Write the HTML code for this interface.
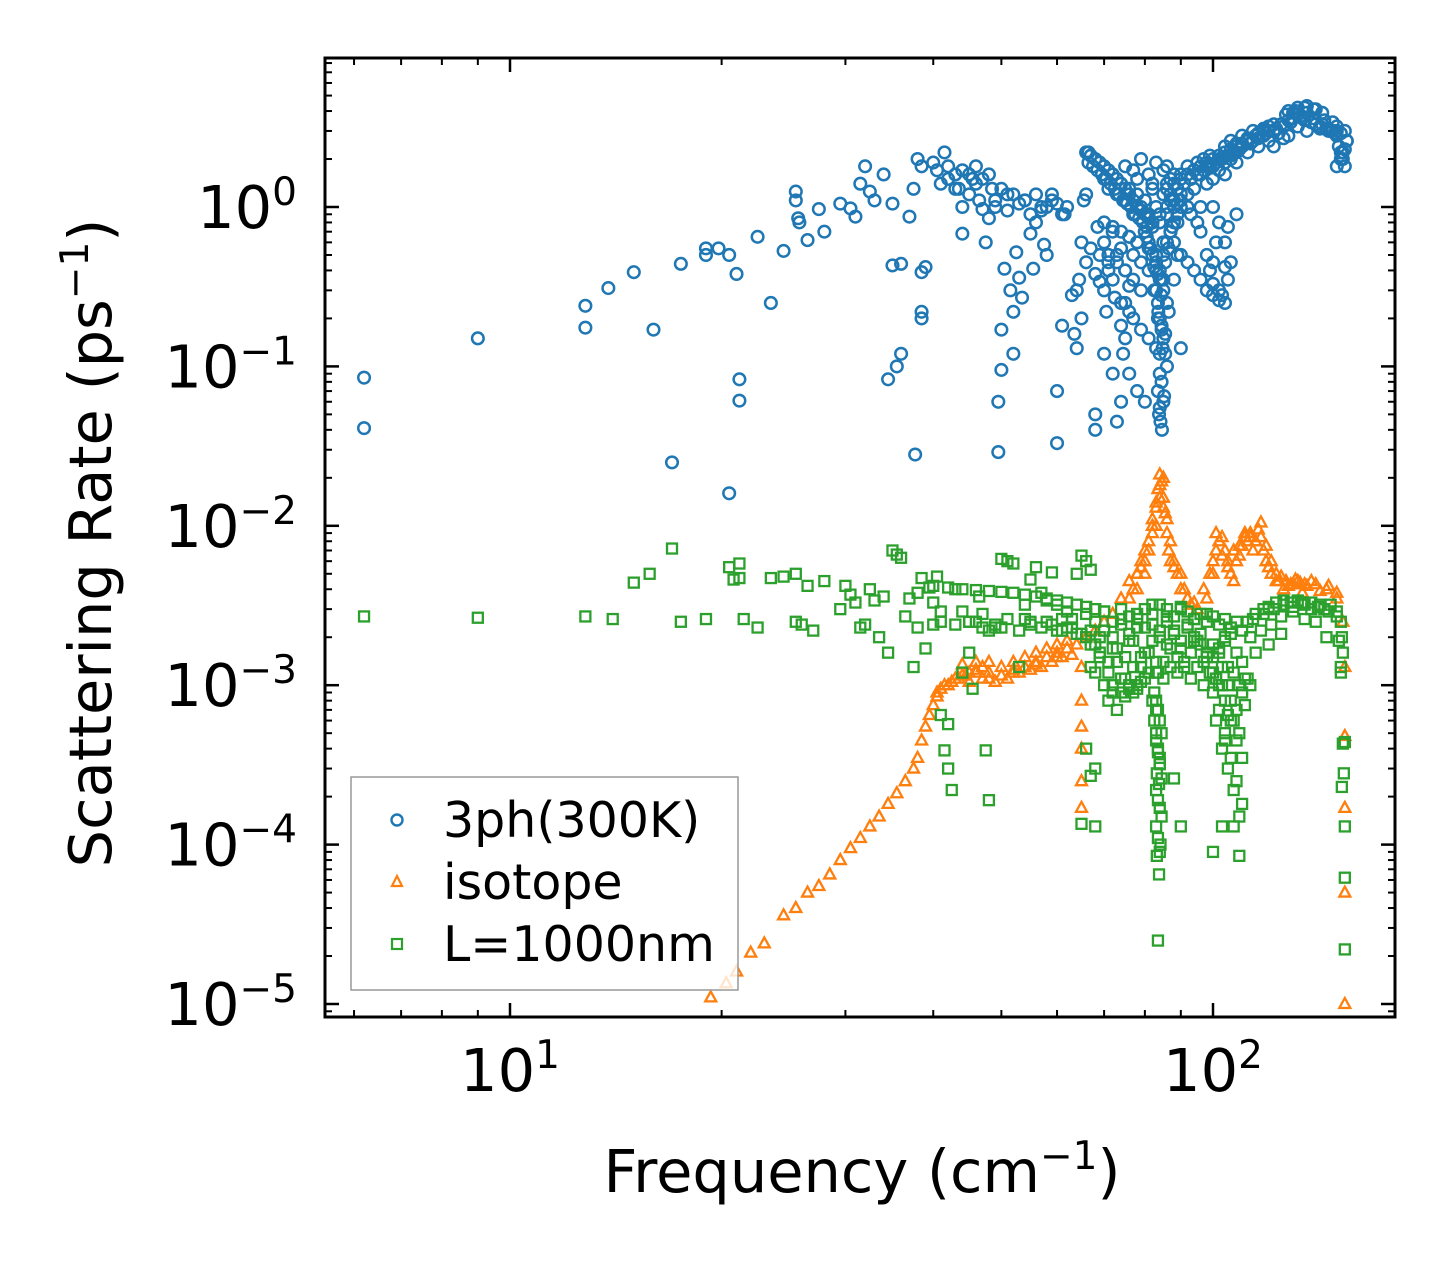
<!DOCTYPE html>
<html><head><meta charset="utf-8">
<style>
html,body{margin:0;padding:0;background:#fff;}
svg{display:block;font-family:"DejaVu Sans","Liberation Sans",sans-serif;}
</style></head>
<body>
<svg id="chart" width="1455" height="1265" viewBox="0 0 1455 1265" xmlns="http://www.w3.org/2000/svg">
<rect width="1455" height="1265" fill="#fff"/>
<g id="marks"></g>
<g id="axes"></g>
<g id="legend">
 <rect x="351" y="777" width="387" height="213" fill="#fff" fill-opacity="0.8" stroke="#999" stroke-width="1.5"/>
 <circle cx="397" cy="820" r="5.5" fill="none" stroke="#1f77b4" stroke-width="2.4"/>
 <text x="443" y="837" font-size="49">3ph(300K)</text>
 <polygon points="397,876 402,886 392,886" fill="none" stroke="#ff7f0e" stroke-width="2.2"/>
 <text x="443" y="899" font-size="49">isotope</text>
 <rect x="392" y="939" width="10" height="10" fill="none" stroke="#2ca02c" stroke-width="2.2"/>
 <text x="443" y="961" font-size="49">L=1000nm</text>
</g>
<text x="862" y="1192" font-size="59" text-anchor="middle">Frequency (cm<tspan dy="-23" font-size="39">−1</tspan><tspan dy="23">)</tspan></text>
<text transform="translate(111,543) rotate(-90)" font-size="59" text-anchor="middle">Scattering Rate (ps<tspan dy="-23" font-size="39">−1</tspan><tspan dy="23">)</tspan></text>
</svg>
<script>
const xTicks=[10,100];
const xTickLabels=["1","2"];
const yTicks=[1,0.1,0.01,0.001,0.0001,0.00001];
const yTickLabels=["0","−1","−2","−3","−4","−5"];

const blueFreq=[6.2,6.2,9.0,12.8,12.8,13.8,15.0,16.0,17.0,17.5,19.0,19.0,19.8,20.5,20.5,21.0,21.2,21.2,22.5,23.5,24.5,25.5,25.5,25.7,25.8,26.5,27.5,28,29.5,30.5,31,31.5,32,32.5,33,34,35,35,35.5,36,36,34.5,37,37.5,38,38.5,37.7,38.5,38.5,38.5,39,40,40.5,41,41.5,42,43,43.5,44,44,45,45.5,46,46.5,47,47.5,48,48.5,49,49.5,49.5,50,50,50.5,51,51.5,52,52,52.5,53,53.5,54,55,55.5,56,57,57.5,58,59,60,60,61,61.5,62,63,63.5,64,64.5,65,65.5,66,66.5,67,68,68,68.5,69,70,70.5,71,72,72.5,73,74,74.5,75,76,
66,67,68,69,70,71,72,73,74,75,76,77,78,79,80,81,82,66.5,67.5,68.5,69.5,70.5,71.5,72.5,73.5,74.5,75.5,76.5,77.5,78.5,79.5,80.5,
80,81,82,83,84,85,86,87,88,89,90,80.5,81.5,82.5,83.5,84.5,85.5,86.5,87.5,
83,83.5,84,84.5,85,85.5,86,84,84.5,83.5,85,84,83.8,84.2,84.6,85.2,84.8,83.6,84.4,85,
70,72,74,76,78,80,82,84,86,88,90,71,73,75,77,79,81,83,85,87,89,
76,78,80,82,75,77,79,81,83,74,76,78,80,
86,88,90,92,94,96,98,100,102,104,106,108,110,87,89,91,93,95,97,99,101,103,105,107,109,
88,90,92,94,96,98,100,102,104,
112,115,118,120,122,125,128,130,132,135,138,140,142,145,148,150,113,116,119,123,126,129,133,136,139,143,146,149,
128,132,136,140,127,131,135,139,143,150,151,152,153,154,155,150,152,154,
92,95,98,100,102,105,93,96,99,101,104,100,102,104,106,100,103,90,88,108,105,
70,71,72,73,74,75,76,77,78,79,
80,81,82,83,84,85,86,87,88,89,
70,72,74,76,78,80,82,84,86,88,
71,73,75,77,79,81,83,85,87,89,
90,91,92,93,94,95,96,97,98,99,
90,92,94,96,98,100,102,104,106,108,
100,102,104,106,108,110,112,114,116,118,
104,106,108,110,112,114,116,118,120,122,
120,124,128,132,136,140,144,148,122,126,
130,134,138,142,146,150,152,154,155,153,
83,84,85,86,83.5,84.5,85.5,82.5,86.5,84,
64,66,68,70,72,74,76,65,67,69,
75,77,79,81,83,85,87,78,82,86,
42,44,46,48,50,52,54,56,58,60,
43,45,47,49,51,53,55,57,59,61];
const blueRate=[0.085,0.041,0.15,0.24,0.175,0.31,0.39,0.17,0.025,0.44,0.55,0.5,0.55,0.5,0.016,0.38,0.083,0.061,0.65,0.25,0.53,1.25,1.1,0.85,0.8,0.62,0.97,0.7,1.05,0.98,0.87,1.4,1.8,1.25,1.1,1.6,1.05,0.43,0.1,0.12,0.44,0.083,0.87,1.3,2.0,1.8,0.028,0.39,0.2,0.22,0.42,1.9,1.7,1.4,2.2,1.8,1.6,1.3,1.0,0.68,1.6,1.5,1.8,1.1,0.97,0.6,0.85,1.3,1.0,0.029,0.06,0.17,0.095,0.41,1.2,0.3,0.22,0.12,0.52,0.36,0.27,1.1,0.68,0.41,0.8,1.0,0.58,0.5,1.2,0.033,0.07,0.18,0.9,1.0,0.28,0.16,0.13,0.35,0.2,1.1,1.2,2.2,2.1,0.04,0.05,0.75,0.34,0.12,0.22,0.4,0.09,0.27,0.045,0.06,0.12,0.15,0.32,
2.2,2.1,2.0,1.9,1.8,1.7,1.6,1.5,1.4,1.3,1.2,1.1,1.0,0.95,0.9,0.85,0.8,1.9,1.8,1.7,1.6,1.5,1.4,1.3,1.2,1.1,1.05,1.0,0.9,0.85,0.8,0.75,
0.7,0.6,0.5,0.45,0.4,0.5,0.6,0.7,0.8,0.9,1.0,0.65,0.55,0.42,0.38,0.35,0.45,0.55,0.75,
0.3,0.25,0.2,0.17,0.15,0.12,0.1,0.09,0.08,0.07,0.06,0.055,0.05,0.045,0.04,0.065,0.13,0.22,0.28,0.35,
0.8,0.75,0.7,0.65,0.6,0.7,0.8,0.9,1.0,1.1,1.2,0.5,0.45,0.4,0.35,0.3,0.4,0.5,0.6,0.7,0.8,
1.2,1.0,0.9,0.8,0.25,0.2,0.17,0.15,0.13,0.18,0.09,0.07,0.06,
1.3,1.4,1.5,1.6,1.7,1.8,1.9,2.0,2.1,2.2,2.3,2.4,2.5,1.2,1.3,1.4,1.5,1.6,1.7,1.8,1.9,2.0,2.1,2.2,2.3,
0.6,0.5,0.45,0.4,0.35,0.3,0.28,0.26,0.25,
2.6,2.8,3.0,3.2,3.0,3.3,3.5,3.6,3.8,3.5,3.4,3.3,3.2,3.1,3.0,3.0,2.5,2.7,2.9,3.1,3.2,3.4,3.7,3.9,3.6,3.3,3.1,2.9,
4.0,4.2,4.3,4.1,3.8,4.0,4.2,4.1,3.9,2.8,2.4,2.2,2.0,1.8,2.6,1.8,2.0,2.3,
1.0,0.8,0.5,0.45,0.3,0.35,0.9,0.7,0.4,0.6,0.42,1.0,0.8,0.6,0.45,0.33,0.28,0.13,0.35,0.9,0.75,
1.5,1.3,1.6,1.2,1.4,1.1,1.3,0.9,1.2,1.0,
1.1,0.9,1.3,1.0,0.8,1.2,1.4,1.1,1.6,1.3,
0.6,0.7,0.55,0.65,0.6,0.7,0.75,0.8,0.9,1.0,
0.45,0.5,0.4,0.5,0.45,0.55,0.5,0.6,0.7,0.5,
1.6,1.4,1.8,1.5,1.7,1.9,1.6,2.0,1.8,2.1,
1.1,1.2,1.3,1.0,1.4,1.5,1.7,1.9,2.0,2.2,
1.8,2.0,1.6,2.1,1.9,2.4,2.2,2.6,2.4,2.8,
2.4,2.6,2.5,2.8,2.7,3.0,2.9,3.1,3.0,3.3,
2.6,2.9,2.8,3.2,3.0,3.3,3.5,3.4,2.4,2.7,
3.9,3.6,3.4,3.1,3.0,3.2,2.9,3.0,2.6,2.2,
0.4,0.35,0.3,0.25,0.2,0.18,0.16,0.3,0.22,0.12,
0.3,0.45,0.38,0.3,0.35,0.25,0.22,0.6,0.55,0.5,
1.8,1.7,2.0,1.6,1.9,1.7,1.5,1.5,1.4,1.8,
1.5,1.7,1.4,1.6,1.3,1.2,1.1,1.2,1.0,1.05,
1.3,1.2,1.5,1.1,0.95,1.05,0.9,0.95,1.1,0.9];

const orangeFreq=[19.3,20.3,21,22,23,24.5,25.5,26.5,27.5,28.5,29.5,30.5,31.5,32.5,33.5,34.5,35.5,36.5,37.5,38,38.5,39,39.5,40,40.5,41,42,43,44,45,46,47,48,50,52,54,56,58,60,62,64,66,68,70,72,74,76,78,80,82,83,84,85,86,87,88,90,92,95,98,100,102,104,106,108,110,112,114,116,118,120,124,128,132,136,140,145,150,153,154,
154,154,154,154,65,65,65,65,65,65,
44,46,48,50,52,54,56,58,60,62,45,47,49,51,53,55,57,59,61,63,
78,79,80,81,82,83.5,84.5,85.5,86.5,83,84,85,
100,101,103,105,107,109,111,113,115,117,119,121,123,126,130,134,138,142,146,150,
76,77,78,79,80,81,82,83,84,85,
86,87,88,89,90,91,92,93,94,95,
97,99,101,103,105,107,109,111,113,115,
117,119,121,123,125,127,129,131,133,135,
40.5,41.5,42.5,43.5,44.5,46,48,52,56,60];
const orangeRate=[1.1e-5,1.35e-5,1.6e-5,2.1e-5,2.4e-5,3.6e-5,4e-5,5e-5,5.5e-5,6.5e-5,8e-5,9.5e-5,1.1e-4,1.3e-4,1.5e-4,1.8e-4,2.1e-4,2.5e-4,3.0e-4,3.5e-4,4.5e-4,5.5e-4,6.5e-4,7.5e-4,8.5e-4,9.5e-4,1.0e-3,1.1e-3,1.15e-3,1.2e-3,1.25e-3,1.3e-3,1.1e-3,1.15e-3,1.2e-3,1.3e-3,1.4e-3,1.5e-3,1.6e-3,1.7e-3,1.8e-3,2.0e-3,2.2e-3,2.5e-3,2.8e-3,3.5e-3,4.5e-3,4.0e-3,6e-3,9e-3,1.3e-2,2.1e-2,1.5e-2,9e-3,6e-3,5.5e-3,4e-3,3.5e-3,3e-3,3.5e-3,5e-3,8e-3,7e-3,5e-3,6e-3,7.5e-3,8e-3,7e-3,9.5e-3,7e-3,5.5e-3,4.5e-3,4.2e-3,4.5e-3,4.2e-3,4.3e-3,4.0e-3,3.8e-3,2.5e-3,1.3e-3,
4.8e-4,1.7e-4,5e-5,1e-5,1.3e-3,8e-4,5.5e-4,4e-4,2.5e-4,1.7e-4,
1.35e-3,1.4e-3,1.4e-3,1.3e-3,1.4e-3,1.5e-3,1.6e-3,1.7e-3,1.8e-3,1.9e-3,1.05e-3,1.1e-3,1.05e-3,1.1e-3,1.2e-3,1.25e-3,1.3e-3,1.4e-3,1.5e-3,1.55e-3,
5e-3,6e-3,5e-3,7e-3,1.1e-2,1.7e-2,1.9e-2,1.2e-2,7e-3,1.0e-2,1.5e-2,2.0e-2,
6e-3,9e-3,6.5e-3,5.5e-3,4.5e-3,6.5e-3,9e-3,8.5e-3,8e-3,1.05e-2,6e-3,5e-3,4.5e-3,4.0e-3,4.3e-3,3.8e-3,4.5e-3,3.9e-3,4.2e-3,3.5e-3,
3.5e-3,4e-3,5e-3,5.5e-3,7e-3,8e-3,1.0e-2,1.4e-2,1.8e-2,1.3e-2,
1.1e-2,8e-3,6e-3,5e-3,5e-3,4e-3,3.5e-3,3.2e-3,3.3e-3,3.0e-3,
4e-3,5e-3,7e-3,8.5e-3,6e-3,7e-3,7.5e-3,8.5e-3,9e-3,8e-3,
8.5e-3,7.5e-3,6e-3,5e-3,4.8e-3,4.5e-3,4.3e-3,4.6e-3,4.4e-3,4.3e-3,
9e-4,1.0e-3,1.05e-3,1.1e-3,1.15e-3,1.2e-3,1.2e-3,1.25e-3,1.35e-3,1.5e-3];

const greenFreq=[6.2,9,12.8,14,15,15.8,17,17.5,19,20.5,20.8,21.2,21.2,21.5,22.5,23.5,24.5,25.5,25.5,26,26.5,27,28,29.5,30,30.5,31,31.5,32,32.5,33,33.5,34,34.5,35,35.5,36,36.5,37,37.5,38,38,38.5,39,39.5,40,40.5,41,41,41.5,42,42,42.5,43,44,44,45,45.5,46,46.5,47,47.5,48,49,50,51,52,53,54,55,56,57,58,59,60,61,62,63,64,65,66,67,65,68,66,67,68,
40,42,44,46,48,50,52,54,56,58,60,62,64,66,68,70,41,43,45,47,49,51,53,55,57,59,61,63,65,67,69,
66,68,70,72,74,76,78,80,82,84,86,88,90,92,94,96,98,100,102,104,106,108,110,
67,69,71,73,75,77,79,81,83,85,87,89,91,93,95,97,99,101,103,105,107,109,111,
68,70,72,74,76,78,80,82,84,86,88,90,92,94,96,98,100,102,104,106,108,110,
82,82.5,83,83.5,84,84.5,83,83.5,84,84.5,83,83.5,84,83.2,83.8,84.2,83,84,83.5,83.5,88,90,
100,102,104,106,108,110,101,103,105,107,109,100,102,104,106,108,110,103,107,100,109,
112,115,118,120,123,126,129,132,135,138,141,144,147,150,113,117,121,125,130,135,140,145,115,120,125,
152,152.5,153,152,153,153.5,152.5,154,154,154,154,152,151,
66,68,70,72,74,76,78,80,82,84,
86,88,90,92,94,96,98,100,102,104,
67,69,71,73,75,77,79,81,83,85,
87,89,91,93,95,97,99,101,103,105,
106,108,110,112,107,109,111,113,105,104,
70,74,78,82,86,90,94,98,72,76,
82.5,83,83.5,84,84.5,83,83.5,84,83.2,83.8,
72,74,76,78,80,71,73,75,77,79,
114,118,122,126,130,134,138,142,146,150,
40,45,50,55,60,62,64,58,54,48];
const greenRate=[2.7e-3,2.65e-3,2.7e-3,2.6e-3,4.4e-3,5e-3,7.2e-3,2.5e-3,2.6e-3,5.5e-3,4.6e-3,5.8e-3,4.7e-3,2.6e-3,2.3e-3,4.7e-3,4.8e-3,2.5e-3,5e-3,2.4e-3,4.2e-3,2.2e-3,4.5e-3,3.0e-3,4.2e-3,3.7e-3,3.3e-3,2.3e-3,2.4e-3,4.0e-3,3.4e-3,2.0e-3,3.6e-3,1.6e-3,7e-3,6.6e-3,6.3e-3,2.7e-3,3.5e-3,1.3e-3,2.3e-3,3.8e-3,4.7e-3,1.7e-3,4.1e-3,3.3e-3,4.8e-3,2.9e-3,6.5e-4,3.9e-4,3.0e-4,5.7e-4,2.2e-4,4e-3,2.9e-3,1.2e-3,1.6e-3,9.5e-4,2.5e-3,3.6e-3,2.8e-3,3.9e-4,1.9e-4,2.3e-3,6.2e-3,6.0e-3,5.8e-3,1.3e-3,3.2e-3,4.6e-3,5.5e-3,3.8e-3,3.4e-3,5.1e-3,3.2e-3,2.6e-3,2.9e-3,2.6e-3,5.0e-3,6.5e-3,6.0e-3,5.3e-3,1.35e-4,1.3e-4,4e-4,2.7e-4,3.0e-4,
4.2e-3,4.1e-3,4.0e-3,3.95e-3,3.9e-3,3.85e-3,3.8e-3,3.7e-3,3.6e-3,3.5e-3,3.4e-3,3.3e-3,3.2e-3,3.1e-3,3.0e-3,2.9e-3,2.5e-3,2.4e-3,2.5e-3,2.3e-3,2.4e-3,2.6e-3,2.2e-3,2.5e-3,2.3e-3,2.4e-3,2.2e-3,2.3e-3,2.1e-3,2.2e-3,2.0e-3,
2.8e-3,2.5e-3,2.2e-3,2.0e-3,2.4e-3,2.1e-3,2.6e-3,2.3e-3,1.9e-3,2.2e-3,2.5e-3,2.1e-3,1.9e-3,2.3e-3,2.0e-3,1.8e-3,1.6e-3,1.5e-3,1.7e-3,1.9e-3,2.1e-3,1.6e-3,1.4e-3,
1.8e-3,1.6e-3,1.4e-3,1.7e-3,1.5e-3,1.9e-3,1.3e-3,1.6e-3,1.2e-3,1.4e-3,1.7e-3,1.5e-3,1.3e-3,1.6e-3,1.9e-3,1.4e-3,1.2e-3,1.1e-3,1.3e-3,1.0e-3,1.2e-3,1.0e-3,1.1e-3,
1.2e-3,1.0e-3,9e-4,1.1e-3,9.5e-4,1.0e-3,3.0e-3,2.8e-3,3.2e-3,3.0e-3,2.7e-3,3.1e-3,2.9e-3,2.6e-3,2.8e-3,2.5e-3,2.7e-3,2.4e-3,2.6e-3,2.3e-3,2.5e-3,2.2e-3,
8e-4,6e-4,5e-4,4e-4,3.2e-4,2.6e-4,2.2e-4,1.9e-4,1.7e-4,1.5e-4,1.3e-4,1.1e-4,9e-5,8.5e-5,6.5e-5,1.0e-4,7e-4,3.5e-4,2.5e-5,1.2e-3,2.6e-4,1.3e-4,
9e-4,7e-4,5e-4,3.5e-4,2.5e-4,1.8e-4,6e-4,4e-4,3e-4,2.2e-4,1.5e-4,1.2e-3,1.0e-3,8e-4,6e-4,4.5e-4,3.5e-4,1.3e-4,1.3e-4,9e-5,8.5e-5,
2.5e-3,2.8e-3,3.0e-3,3.1e-3,3.3e-3,3.4e-3,3.3e-3,3.4e-3,3.2e-3,3.3e-3,3.1e-3,3.0e-3,3.2e-3,2.9e-3,2.0e-3,2.2e-3,2.4e-3,2.7e-3,2.9e-3,2.6e-3,2.5e-3,2.0e-3,1.6e-3,1.8e-3,2.1e-3,
2.5e-3,2.0e-3,1.6e-3,1.2e-3,4.3e-4,2.8e-4,2.3e-4,1.3e-4,6.2e-5,2.2e-5,4.4e-4,1.3e-3,1.9e-3,
2.0e-3,1.8e-3,2.2e-3,1.7e-3,2.6e-3,1.9e-3,2.3e-3,1.6e-3,2.4e-3,2.0e-3,
1.8e-3,2.2e-3,1.7e-3,2.4e-3,1.9e-3,2.1e-3,1.5e-3,1.8e-3,1.6e-3,2.0e-3,
1.3e-3,1.5e-3,1.2e-3,1.4e-3,1.1e-3,1.3e-3,1.5e-3,1.2e-3,1.4e-3,1.1e-3,
1.3e-3,1.2e-3,1.4e-3,1.1e-3,1.3e-3,1.0e-3,1.2e-3,1.1e-3,1.0e-3,1.3e-3,
8e-4,7e-4,9e-4,1.1e-3,6e-4,5e-4,7.5e-4,1.0e-3,6.5e-4,4.5e-4,
2.9e-3,3.0e-3,2.8e-3,3.2e-3,2.7e-3,3.0e-3,2.6e-3,2.8e-3,2.5e-3,2.7e-3,
9e-4,8e-4,7e-4,6e-4,5e-4,4.5e-4,3.8e-4,3.2e-4,2.8e-4,2.4e-4,
1.0e-3,9e-4,1.0e-3,9.5e-4,1.1e-3,8e-4,7e-4,8.5e-4,9e-4,1.05e-3,
2.6e-3,2.8e-3,3.0e-3,3.2e-3,3.1e-3,3.3e-3,3.0e-3,3.2e-3,2.9e-3,2.7e-3,
2.4e-3,2.5e-3,2.3e-3,2.4e-3,2.2e-3,2.3e-3,2.1e-3,2.5e-3,2.6e-3,2.2e-3];

const X0=510, XDEC=703, Y0=207, YDEC=159.4;
const L=325,R=1395,T=58,B=1017;
function xs(f){return X0+(Math.log10(f)-1)*XDEC;}
function ys(v){return Y0-Math.log10(v)*YDEC;}
const NS="http://www.w3.org/2000/svg";
const marks=document.getElementById('marks');
const axes=document.getElementById('axes');
function mk(tag,attrs,parent){const e=document.createElementNS(NS,tag);for(const k in attrs)e.setAttribute(k,attrs[k]);parent.appendChild(e);return e;}

const gB=mk('g',{},marks);


const gO=mk('g',{},marks);


const gG=mk('g',{},marks);



blueFreq.forEach((f,i)=>{
 if(blueRate[i]===undefined)return;
 const c=mk('circle',{cx:xs(f),cy:ys(blueRate[i]),r:5.8,fill:'none',stroke:'#1f77b4','stroke-width':2.5},gB);
 
 
});
orangeFreq.forEach((f,i)=>{
 if(orangeRate[i]===undefined)return;
 const x=xs(f),y=ys(orangeRate[i]);
 const p=mk('polygon',{points:`${x},${y-6} ${x+5.5},${y+4} ${x-5.5},${y+4}`,fill:'none',stroke:'#ff7f0e','stroke-width':2.3},gO);
 
 
});
greenFreq.forEach((f,i)=>{
 if(greenRate[i]===undefined)return;
 const x=xs(f),y=ys(greenRate[i]);
 const r=mk('rect',{x:x-5,y:y-5,width:10,height:10,fill:'none',stroke:'#2ca02c','stroke-width':2.3},gG);
 
 
});

const fr=mk('rect',{x:L,y:T,width:R-L,height:B-T,fill:'none',stroke:'#000','stroke-width':3},axes);


for(let d=0;d<3;d++){for(let m=1;m<10;m++){const f=m*Math.pow(10,d);const x=xs(f);if(x<L||x>R)continue;const len=m===1?14:7;
 mk('line',{x1:x,x2:x,y1:B,y2:B-len,stroke:'#000','stroke-width':m===1?2.5:2},axes);
 mk('line',{x1:x,x2:x,y1:T,y2:T+len,stroke:'#000','stroke-width':m===1?2.5:2},axes);}}
for(let d=-6;d<2;d++){for(let m=1;m<10;m++){const v=m*Math.pow(10,d);const y=ys(v);if(y<T||y>B)continue;const len=m===1?14:7;
 mk('line',{x1:L,x2:L+len,y1:y,y2:y,stroke:'#000','stroke-width':m===1?2.5:2},axes);
 mk('line',{x1:R,x2:R-len,y1:y,y2:y,stroke:'#000','stroke-width':m===1?2.5:2},axes);}}
xTicks.forEach((f,i)=>{
 const t=mk('text',{x:xs(f),y:1091,'font-size':59,'text-anchor':'middle'},axes);
 
 
 t.innerHTML='10<tspan dy="-23" font-size="39">'+xTickLabels[i]+'</tspan>';
});
yTicks.forEach((v,i)=>{
 const t=mk('text',{x:297,y:ys(v)+21,'font-size':59,'text-anchor':'end'},axes);
 
 
 t.innerHTML='10<tspan dy="-23" font-size="39">'+yTickLabels[i]+'</tspan>';
});
</script>
</body></html>
